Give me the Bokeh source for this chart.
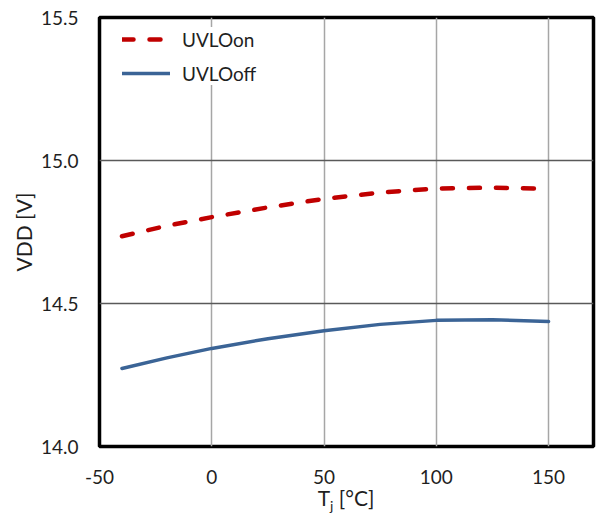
from bokeh.plotting import figure
from bokeh.models import Range1d, FixedTicker, PrintfTickFormatter, Legend, LegendItem, Div
from bokeh.layouts import column
from bokeh.embed import file_html
from bokeh.resources import INLINE

# Data
tj_on = [-40, -20, 0, 25, 50, 75, 100, 125, 145]
uvlo_on = [14.735, 14.772, 14.802, 14.836, 14.866, 14.888, 14.902, 14.905, 14.902]
tj_off = [-40, -20, 0, 25, 50, 75, 100, 125, 150]
uvlo_off = [14.273, 14.310, 14.343, 14.377, 14.405, 14.427, 14.441, 14.443, 14.437]
x_ticks = [-50, 0, 50, 100, 150]
y_ticks = [14.0, 14.5, 15.0, 15.5]

FONT = "Lato"
TXT = "#1f1f1f"
RED = "#c00000"
BLUE = "#3b6496"

p = figure(width=596, height=494, output_backend="svg", toolbar_location=None,
           x_range=Range1d(-50, 170), y_range=Range1d(14.0, 15.5),
           min_border_left=99, min_border_top=17, min_border_right=3, min_border_bottom=48)
p.background_fill_color = "white"
p.border_fill_color = "white"
p.outline_line_color = "black"
p.outline_line_width = 3.5

for ax in (p.xaxis[0], p.yaxis[0]):
    ax.axis_line_color = None
    ax.major_tick_line_color = None
    ax.minor_tick_line_color = None
    ax.major_tick_out = 0
    ax.major_tick_in = 0
    ax.major_label_text_font = FONT
    ax.major_label_text_font_size = "19px"
    ax.major_label_text_color = TXT

p.xaxis.ticker = FixedTicker(ticks=x_ticks)
p.yaxis.ticker = FixedTicker(ticks=y_ticks)
p.xaxis.formatter = PrintfTickFormatter(format="%d")
p.yaxis.formatter = PrintfTickFormatter(format="%.1f")
p.xaxis.major_label_standoff = 23
p.yaxis.major_label_standoff = 21

p.yaxis.axis_label = "VDD [V]"
p.yaxis.axis_label_text_font = FONT
p.yaxis.axis_label_text_font_size = "21px"
p.yaxis.axis_label_text_font_style = "normal"
p.yaxis.axis_label_text_color = TXT
p.yaxis.axis_label_standoff = 2

p.xgrid.grid_line_color = "#a6a6a6"
p.xgrid.grid_line_width = 1.5
p.ygrid.grid_line_color = "#595959"
p.ygrid.grid_line_width = 1.5

r_on = p.line(tj_on, uvlo_on, line_color=RED, line_width=4.5, line_dash="11 16", line_cap="round")
r_off = p.line(tj_off, uvlo_off, line_color=BLUE, line_width=3.5, line_cap="round")

legend = Legend(items=[LegendItem(label="UVLOon", renderers=[r_on]),
                       LegendItem(label="UVLOoff", renderers=[r_off])],
                location=(23, 361), padding=10, spacing=10, margin=0,
                glyph_width=48, glyph_height=24, label_height=24, label_standoff=12,
                label_text_font=FONT, label_text_font_size="19px", label_text_color=TXT,
                border_line_color=None, background_fill_color="white", background_fill_alpha=1.0)
p.add_layout(legend)

# x axis title with subscript j, as HTML text below the plot
xlabel = Div(
    text=('<div style="box-sizing:border-box;padding-left:99px;width:593px;text-align:center;'
          'font-family:Lato;font-size:21px;line-height:6px;color:#1f1f1f;white-space:nowrap">'
          'T<span style="font-size:14px;position:relative;top:5px">j</span> [°C]</div>'),
    width=596, height=27, margin=0)

layout = column(p, xlabel, spacing=0)

open("out.html", "w").write(file_html(layout, INLINE))
